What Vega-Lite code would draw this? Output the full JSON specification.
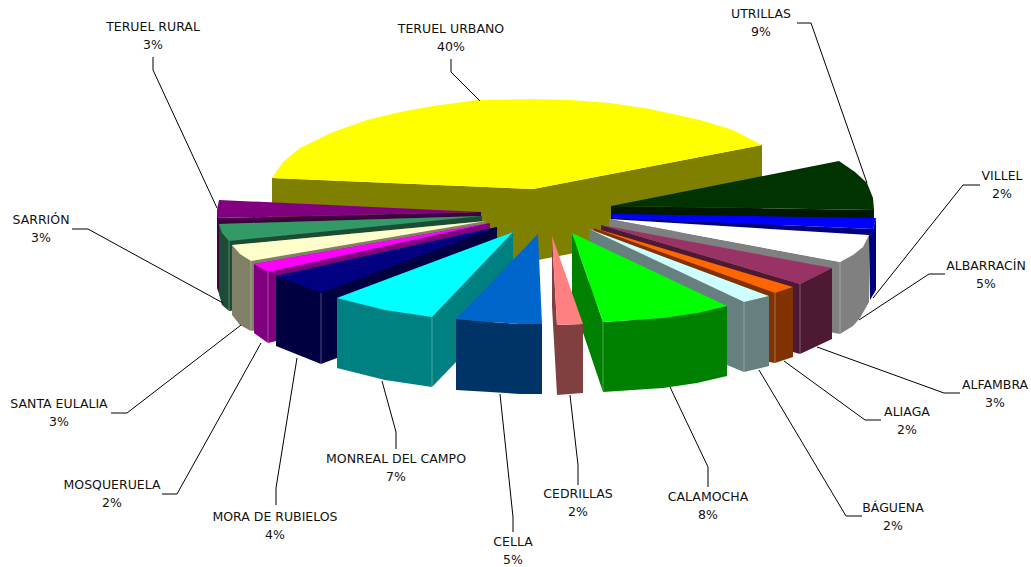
{"$schema":"https://vega.github.io/schema/vega-lite/v6.json","width":1031,"height":567,"padding":0,"autosize":{"type":"none"},"background":"white","config":{"view":{"stroke":null}},
"datasets":{
"caras":[
{"p":"A1","n":0,"x":272,"y":178},{"p":"A1","n":1,"x":533,"y":189},{"p":"A1","n":2,"x":762,"y":145},{"p":"A1","n":3,"x":762,"y":217},{"p":"A1","n":4,"x":533,"y":261},{"p":"A1","n":5,"x":272,"y":250},
{"p":"A2","n":0,"x":272,"y":178},{"p":"A2","n":1,"x":283,"y":162},{"p":"A2","n":2,"x":300,"y":148},{"p":"A2","n":3,"x":333,"y":132},{"p":"A2","n":4,"x":367,"y":120},{"p":"A2","n":5,"x":400,"y":112},{"p":"A2","n":6,"x":433,"y":106},{"p":"A2","n":7,"x":478,"y":100},{"p":"A2","n":8,"x":533,"y":99},{"p":"A2","n":9,"x":570,"y":100},{"p":"A2","n":10,"x":610,"y":103},{"p":"A2","n":11,"x":650,"y":109},{"p":"A2","n":12,"x":700,"y":120},{"p":"A2","n":13,"x":733,"y":130},{"p":"A2","n":14,"x":762,"y":145},{"p":"A2","n":15,"x":533,"y":189},
{"p":"B1","n":0,"x":217,"y":218},{"p":"B1","n":1,"x":481,"y":212},{"p":"B1","n":2,"x":481,"y":290},{"p":"B1","n":3,"x":222,"y":302},{"p":"B1","n":4,"x":217,"y":288},
{"p":"B2","n":0,"x":219,"y":200},{"p":"B2","n":1,"x":481,"y":212},{"p":"B2","n":2,"x":217,"y":218},{"p":"B2","n":3,"x":217,"y":210},
{"p":"C1","n":0,"x":219,"y":224},{"p":"C1","n":1,"x":482,"y":216},{"p":"C1","n":2,"x":482,"y":285},{"p":"C1","n":3,"x":229,"y":311},{"p":"C1","n":4,"x":222,"y":305},{"p":"C1","n":5,"x":219,"y":294},
{"p":"C2","n":0,"x":219,"y":224},{"p":"C2","n":1,"x":482,"y":216},{"p":"C2","n":2,"x":229,"y":241},{"p":"C2","n":3,"x":222,"y":233},
{"p":"D1","n":0,"x":232,"y":245},{"p":"D1","n":1,"x":486,"y":221},{"p":"D1","n":2,"x":486,"y":290},{"p":"D1","n":3,"x":251,"y":331},{"p":"D1","n":4,"x":240,"y":325},{"p":"D1","n":5,"x":232,"y":315},
{"p":"D2","n":0,"x":232,"y":245},{"p":"D2","n":1,"x":486,"y":221},{"p":"D2","n":2,"x":251,"y":261},{"p":"D2","n":3,"x":240,"y":254},
{"p":"E1","n":0,"x":254,"y":264},{"p":"E1","n":1,"x":490,"y":223},{"p":"E1","n":2,"x":490,"y":290},{"p":"E1","n":3,"x":268,"y":343},{"p":"E1","n":4,"x":254,"y":333},
{"p":"E2","n":0,"x":254,"y":264},{"p":"E2","n":1,"x":490,"y":223},{"p":"E2","n":2,"x":268,"y":272},
{"p":"F1","n":0,"x":276,"y":276},{"p":"F1","n":1,"x":497,"y":227},{"p":"F1","n":2,"x":497,"y":298},{"p":"F1","n":3,"x":321,"y":364},{"p":"F1","n":4,"x":276,"y":346},
{"p":"F2","n":0,"x":276,"y":276},{"p":"F2","n":1,"x":497,"y":227},{"p":"F2","n":2,"x":321,"y":293},
{"p":"G1","n":0,"x":337,"y":298},{"p":"G1","n":1,"x":513,"y":232},{"p":"G1","n":2,"x":513,"y":303},{"p":"G1","n":3,"x":432,"y":387},{"p":"G1","n":4,"x":385,"y":380},{"p":"G1","n":5,"x":337,"y":368},
{"p":"G2","n":0,"x":337,"y":298},{"p":"G2","n":1,"x":513,"y":232},{"p":"G2","n":2,"x":432,"y":317},{"p":"G2","n":3,"x":385,"y":310},
{"p":"H1","n":0,"x":611,"y":206},{"p":"H1","n":1,"x":874,"y":210},{"p":"H1","n":2,"x":874,"y":225},{"p":"H1","n":3,"x":611,"y":225},
{"p":"H2","n":0,"x":611,"y":206},{"p":"H2","n":1,"x":839,"y":161},{"p":"H2","n":2,"x":855,"y":172},{"p":"H2","n":3,"x":867,"y":183},{"p":"H2","n":4,"x":873,"y":198},{"p":"H2","n":5,"x":874,"y":210},
{"p":"I1","n":0,"x":612,"y":218},{"p":"I1","n":1,"x":873,"y":229},{"p":"I1","n":2,"x":876,"y":218},{"p":"I1","n":3,"x":876,"y":290},{"p":"I1","n":4,"x":870,"y":300},{"p":"I1","n":5,"x":869,"y":240},{"p":"I1","n":6,"x":612,"y":228},
{"p":"I2","n":0,"x":612,"y":214},{"p":"I2","n":1,"x":876,"y":218},{"p":"I2","n":2,"x":873,"y":229},{"p":"I2","n":3,"x":612,"y":218},
{"p":"J1","n":0,"x":609,"y":219},{"p":"J1","n":1,"x":840,"y":262},{"p":"J1","n":2,"x":869,"y":235},{"p":"J1","n":3,"x":869,"y":302},{"p":"J1","n":4,"x":860,"y":318},{"p":"J1","n":5,"x":853,"y":326},{"p":"J1","n":6,"x":840,"y":334},{"p":"J1","n":7,"x":609,"y":290},
{"p":"J2","n":0,"x":609,"y":219},{"p":"J2","n":1,"x":869,"y":235},{"p":"J2","n":2,"x":863,"y":247},{"p":"J2","n":3,"x":853,"y":255},{"p":"J2","n":4,"x":840,"y":262},
{"p":"K1","n":0,"x":601,"y":225},{"p":"K1","n":1,"x":800,"y":284},{"p":"K1","n":2,"x":832,"y":268},{"p":"K1","n":3,"x":832,"y":339},{"p":"K1","n":4,"x":800,"y":354},{"p":"K1","n":5,"x":793,"y":352},{"p":"K1","n":6,"x":601,"y":300},
{"p":"K2","n":0,"x":601,"y":225},{"p":"K2","n":1,"x":832,"y":268},{"p":"K2","n":2,"x":800,"y":284},
{"p":"L1","n":0,"x":594,"y":228},{"p":"L1","n":1,"x":775,"y":293},{"p":"L1","n":2,"x":793,"y":287},{"p":"L1","n":3,"x":793,"y":357},{"p":"L1","n":4,"x":775,"y":363},{"p":"L1","n":5,"x":769,"y":362},{"p":"L1","n":6,"x":594,"y":300},
{"p":"L2","n":0,"x":594,"y":228},{"p":"L2","n":1,"x":793,"y":287},{"p":"L2","n":2,"x":775,"y":293},
{"p":"M1","n":0,"x":589,"y":229},{"p":"M1","n":1,"x":744,"y":302},{"p":"M1","n":2,"x":769,"y":296},{"p":"M1","n":3,"x":769,"y":366},{"p":"M1","n":4,"x":744,"y":372},{"p":"M1","n":5,"x":727,"y":365},{"p":"M1","n":6,"x":589,"y":300},
{"p":"M2","n":0,"x":589,"y":229},{"p":"M2","n":1,"x":769,"y":296},{"p":"M2","n":2,"x":744,"y":302},
{"p":"N1","n":0,"x":572,"y":233},{"p":"N1","n":1,"x":603,"y":322},{"p":"N1","n":2,"x":663,"y":318},{"p":"N1","n":3,"x":697,"y":313},{"p":"N1","n":4,"x":727,"y":306},{"p":"N1","n":5,"x":727,"y":376},{"p":"N1","n":6,"x":697,"y":383},{"p":"N1","n":7,"x":663,"y":388},{"p":"N1","n":8,"x":603,"y":392},{"p":"N1","n":9,"x":572,"y":300},
{"p":"N2","n":0,"x":572,"y":233},{"p":"N2","n":1,"x":727,"y":306},{"p":"N2","n":2,"x":697,"y":313},{"p":"N2","n":3,"x":663,"y":318},{"p":"N2","n":4,"x":603,"y":322},
{"p":"O1","n":0,"x":552,"y":236},{"p":"O1","n":1,"x":557,"y":325},{"p":"O1","n":2,"x":583,"y":324},{"p":"O1","n":3,"x":583,"y":393},{"p":"O1","n":4,"x":557,"y":395},{"p":"O1","n":5,"x":552,"y":306},
{"p":"O2","n":0,"x":552,"y":236},{"p":"O2","n":1,"x":583,"y":324},{"p":"O2","n":2,"x":557,"y":325},
{"p":"P1","n":0,"x":456,"y":319},{"p":"P1","n":1,"x":490,"y":322},{"p":"P1","n":2,"x":520,"y":324},{"p":"P1","n":3,"x":542,"y":324},{"p":"P1","n":4,"x":542,"y":394},{"p":"P1","n":5,"x":520,"y":394},{"p":"P1","n":6,"x":490,"y":392},{"p":"P1","n":7,"x":456,"y":390},
{"p":"P2","n":0,"x":538,"y":234},{"p":"P2","n":1,"x":542,"y":324},{"p":"P2","n":2,"x":520,"y":324},{"p":"P2","n":3,"x":490,"y":322},{"p":"P2","n":4,"x":456,"y":319}
],
"aristas":[
{"x":603,"y":322,"y2":392},{"x":432,"y":317,"y2":387},{"x":744,"y":302,"y2":372},{"x":775,"y":293,"y2":363},{"x":800,"y":284,"y2":354},{"x":840,"y":262,"y2":334},{"x":251,"y":261,"y2":331},{"x":268,"y":272,"y2":343},{"x":321,"y":293,"y2":364},{"x":229,"y":241,"y2":311}
],
"guias":[
{"z":"TERUEL URBANO","n":0,"x":451,"y":59},{"z":"TERUEL URBANO","n":1,"x":451,"y":72},{"z":"TERUEL URBANO","n":2,"x":480,"y":101},
{"z":"TERUEL RURAL","n":0,"x":153,"y":57},{"z":"TERUEL RURAL","n":1,"x":153,"y":70},{"z":"TERUEL RURAL","n":2,"x":217,"y":208},
{"z":"UTRILLAS","n":0,"x":797,"y":23},{"z":"UTRILLAS","n":1,"x":811,"y":23},{"z":"UTRILLAS","n":2,"x":867,"y":183},
{"z":"VILLEL","n":0,"x":980,"y":185},{"z":"VILLEL","n":1,"x":963,"y":185},{"z":"VILLEL","n":2,"x":873,"y":298},
{"z":"ALBARRACÍN","n":0,"x":945,"y":274},{"z":"ALBARRACÍN","n":1,"x":929,"y":274},{"z":"ALBARRACÍN","n":2,"x":859,"y":320},
{"z":"ALFAMBRA","n":0,"x":960,"y":393},{"z":"ALFAMBRA","n":1,"x":944,"y":393},{"z":"ALFAMBRA","n":2,"x":817,"y":347},
{"z":"ALIAGA","n":0,"x":881,"y":420},{"z":"ALIAGA","n":1,"x":865,"y":420},{"z":"ALIAGA","n":2,"x":784,"y":361},
{"z":"BÁGUENA","n":0,"x":862,"y":516},{"z":"BÁGUENA","n":1,"x":846,"y":516},{"z":"BÁGUENA","n":2,"x":759,"y":370},
{"z":"CALAMOCHA","n":0,"x":708,"y":487},{"z":"CALAMOCHA","n":1,"x":708,"y":467},{"z":"CALAMOCHA","n":2,"x":670,"y":387},
{"z":"CEDRILLAS","n":0,"x":578,"y":485},{"z":"CEDRILLAS","n":1,"x":578,"y":465},{"z":"CEDRILLAS","n":2,"x":570,"y":395},
{"z":"CELLA","n":0,"x":513,"y":532},{"z":"CELLA","n":1,"x":513,"y":517},{"z":"CELLA","n":2,"x":500,"y":394},
{"z":"MONREAL DEL CAMPO","n":0,"x":396,"y":449},{"z":"MONREAL DEL CAMPO","n":1,"x":396,"y":432},{"z":"MONREAL DEL CAMPO","n":2,"x":382,"y":381},
{"z":"MORA DE RUBIELOS","n":0,"x":276,"y":505},{"z":"MORA DE RUBIELOS","n":1,"x":276,"y":488},{"z":"MORA DE RUBIELOS","n":2,"x":297,"y":358},
{"z":"MOSQUERUELA","n":0,"x":162,"y":494},{"z":"MOSQUERUELA","n":1,"x":177,"y":494},{"z":"MOSQUERUELA","n":2,"x":261,"y":343},
{"z":"SANTA EULALIA","n":0,"x":111,"y":413},{"z":"SANTA EULALIA","n":1,"x":127,"y":413},{"z":"SANTA EULALIA","n":2,"x":241,"y":325},
{"z":"SARRIÓN","n":0,"x":72,"y":229},{"z":"SARRIÓN","n":1,"x":88,"y":229},{"z":"SARRIÓN","n":2,"x":223,"y":303}
],
"zonas":[
{"zona":"TERUEL URBANO","pct":"40%","x":451,"y":29},
{"zona":"TERUEL RURAL","pct":"3%","x":153,"y":27},
{"zona":"UTRILLAS","pct":"9%","x":761,"y":14},
{"zona":"VILLEL","pct":"2%","x":1002,"y":176},
{"zona":"ALBARRACÍN","pct":"5%","x":986,"y":266},
{"zona":"ALFAMBRA","pct":"3%","x":995,"y":385},
{"zona":"ALIAGA","pct":"2%","x":907,"y":412},
{"zona":"BÁGUENA","pct":"2%","x":893,"y":508},
{"zona":"CALAMOCHA","pct":"8%","x":708,"y":497},
{"zona":"CEDRILLAS","pct":"2%","x":578,"y":494},
{"zona":"CELLA","pct":"5%","x":513,"y":542},
{"zona":"MONREAL DEL CAMPO","pct":"7%","x":396,"y":459},
{"zona":"MORA DE RUBIELOS","pct":"4%","x":275,"y":517},
{"zona":"MOSQUERUELA","pct":"2%","x":112,"y":485},
{"zona":"SANTA EULALIA","pct":"3%","x":59,"y":404},
{"zona":"SARRIÓN","pct":"3%","x":41,"y":220}
]},
"encoding":{
"x":{"field":"x","type":"quantitative","scale":{"domain":[0,1031]},"axis":null},
"y":{"field":"y","type":"quantitative","scale":{"domain":[567,0]},"axis":null}},
"layer":[
{"data":{"name":"caras"},"mark":{"type":"line","interpolate":"linear-closed","strokeWidth":0,"clip":false},
"encoding":{"order":{"field":"n","type":"quantitative"},"fill":{"field":"p","type":"nominal","legend":null,"scale":{
"domain":["A1","A2","B1","B2","C1","C2","D1","D2","E1","E2","F1","F2","G1","G2","H1","H2","I1","I2","J1","J2","K1","K2","L1","L2","M1","M2","N1","N2","O1","O2","P1","P2"],
"range":["#808000","#FFFF00","#400040","#800080","#1A4D33","#339966","#808066","#FFFFCC","#800080","#FF00FF","#000040","#000080","#008080","#00FFFF","#001900","#003300","#000080","#0000FF","#808080","#FFFFFF","#4D1933","#993366","#803300","#FF6600","#668080","#CCFFFF","#008000","#00FF00","#804040","#FF8080","#003366","#0066CC"]}}}},
{"data":{"name":"aristas"},"mark":{"type":"rule","stroke":"#FFFFFF","strokeWidth":1,"opacity":0.3},
"encoding":{"y2":{"field":"y2"}}},
{"data":{"name":"guias"},"mark":{"type":"line","stroke":"#000000","strokeWidth":1},
"encoding":{"order":{"field":"n","type":"quantitative"},"detail":{"field":"z","type":"nominal"}}},
{"data":{"name":"zonas"},"mark":{"type":"text","font":"DejaVu Sans","fontSize":12.5,"fill":"#111111","baseline":"middle","align":"center"},
"encoding":{"text":{"field":"zona","type":"nominal"}}},
{"data":{"name":"zonas"},"mark":{"type":"text","font":"DejaVu Sans","fontSize":12.5,"fill":"#111111","baseline":"middle","align":"center","dy":18},
"encoding":{"text":{"field":"pct","type":"nominal"}}}
]}
